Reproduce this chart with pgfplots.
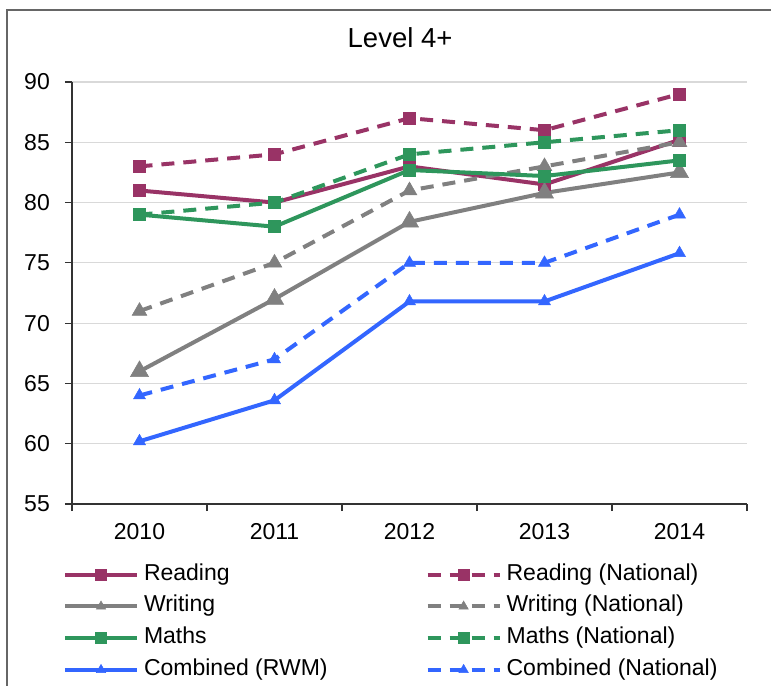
\documentclass[border=0pt]{standalone}
\usepackage{pgfplots}
\pgfplotsset{compat=1.18}
\usepackage{fontspec}
\setmainfont{Liberation Sans}
\definecolor{cRead}{RGB}{153,51,102}
\definecolor{cWrite}{RGB}{128,128,128}
\definecolor{cMath}{RGB}{46,150,92}
\definecolor{cComb}{RGB}{51,102,255}
\begin{document}
\begin{tikzpicture}
\path[use as bounding box] (0,0) rectangle (771bp,686bp);
\draw[line width=1.2bp, color=black!60] (7bp,0) -- (7bp,676bp) -- (771bp,676bp);
\begin{axis}[
  at={(72bp,182bp)}, anchor=south west,
  scale only axis, width=675bp, height=422bp,
  xmin=0.5, xmax=5.5, ymin=55, ymax=90,
  xtick={1,...,5}, xticklabels={2010,2011,2012,2013,2014},
  minor xtick={0.5,1.5,...,5.5},
  ytick={55,60,...,90},
  axis x line*=bottom, axis y line*=left,
  axis line style={line width=1.2bp, black!80},
  tick align=outside,
  major tick length=7bp, minor tick length=7bp,
  major x tick style={draw=none},
  minor x tick style={line width=1.2bp, black!80},
  major y tick style={line width=1.2bp, black!80},
  ymajorgrids, major grid style={line width=1.2bp, black!15},
  tick label style={font=\fontsize{23bp}{27bp}\selectfont, inner sep=0pt},
  yticklabel style={anchor=east, xshift=-15bp},
  xticklabel style={anchor=north, yshift=-12bp},
  /pgf/number format/assume math mode=true,
  title={Level 4+},
  title style={font=\fontsize{27.5bp}{32bp}\selectfont, at={(0.486,1.0917)}, anchor=center},
  legend columns=2,
  legend cell align=left,
  legend style={draw=none, fill=none, at={(-0.0133,-0.1405)}, anchor=north west,
    font=\fontsize{23bp}{27bp}\selectfont, inner sep=0pt, outer sep=0pt, row sep=8.7bp,
    nodes={inner sep=0pt, text height=17bp, text depth=6bp},
    /tikz/every even column/.append style={column sep=98bp},
    /tikz/every odd column/.append style={column sep=5bp}},
  legend image code/.code={\draw[#1, mark repeat=2, mark phase=2] plot coordinates {(0bp,0bp) (36bp,0bp) (72bp,0bp)};},
  legend image post style={mark size=5.5bp},
  every axis plot/.append style={line width=4bp},
]
\addplot[cRead, mark=square*, mark size=6bp, mark options={solid, line width=0.5bp}]
  coordinates {(1,81) (2,80) (3,83) (4,81.5) (5,85.2)};
\addlegendentry{Reading}
\addplot[cRead, dash pattern=on 13bp off 9bp, mark=square*, mark size=6bp, mark options={solid, line width=0.5bp}]
  coordinates {(1,83) (2,84) (3,87) (4,86) (5,89)};
\addlegendentry{Reading (National)}
\addplot[cWrite, mark=triangle*, mark size=10.5bp, mark options={solid, line width=0.5bp}]
  coordinates {(1,66) (2,72) (3,78.4) (4,80.8) (5,82.5)};
\addlegendentry{Writing}
\addplot[cWrite, dash pattern=on 13bp off 9bp, mark=triangle*, mark size=8.5bp, mark options={solid, line width=0.5bp}]
  coordinates {(1,71) (2,75) (3,81) (4,83) (5,85)};
\addlegendentry{Writing (National)}
\addplot[cMath, mark=square*, mark size=6bp, mark options={solid, line width=0.5bp}]
  coordinates {(1,79) (2,78) (3,82.7) (4,82.2) (5,83.5)};
\addlegendentry{Maths}
\addplot[cMath, dash pattern=on 13bp off 9bp, mark=square*, mark size=6bp, mark options={solid, line width=0.5bp}]
  coordinates {(1,79) (2,80) (3,84) (4,85) (5,86)};
\addlegendentry{Maths (National)}
\addplot[cComb, mark=triangle*, mark size=7bp, mark options={solid, line width=0.5bp}]
  coordinates {(1,60.2) (2,63.6) (3,71.8) (4,71.8) (5,75.8)};
\addlegendentry{Combined (RWM)}
\addplot[cComb, dash pattern=on 13bp off 9bp, mark=triangle*, mark size=7bp, mark options={solid, line width=0.5bp}]
  coordinates {(1,64) (2,67) (3,75) (4,75) (5,79)};
\addlegendentry{Combined (National)}
\end{axis}
\end{tikzpicture}
\end{document}
